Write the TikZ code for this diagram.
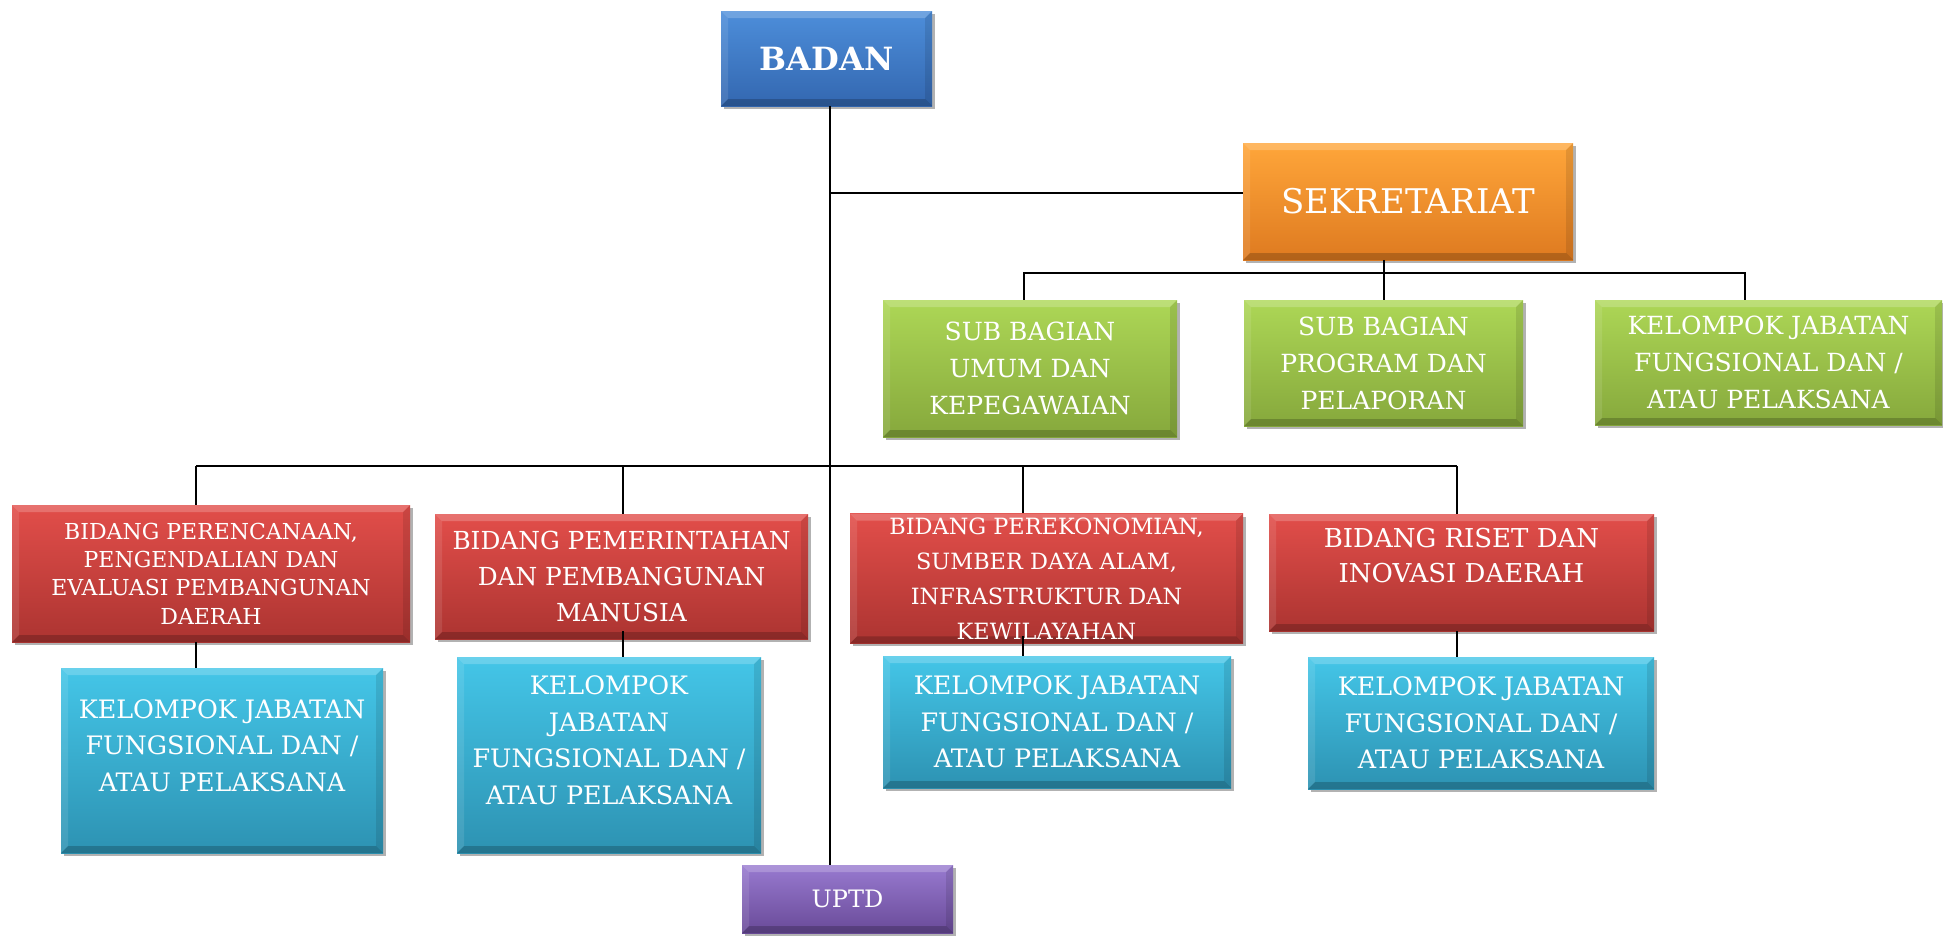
\documentclass[tikz,border=0pt]{standalone}
\usepackage{fontspec}
\setmainfont{DejaVu Serif}
\usetikzlibrary{shadows}

\definecolor{biruA}{HTML}{4D8EDA}
\definecolor{biruB}{HTML}{3367B0}
\definecolor{oranyeA}{HTML}{FFA63A}
\definecolor{oranyeB}{HTML}{DE7A20}
\definecolor{hijauA}{HTML}{ADD756}
\definecolor{hijauB}{HTML}{86A83C}
\definecolor{merahA}{HTML}{E24E4A}
\definecolor{merahB}{HTML}{AC3431}
\definecolor{tosqA}{HTML}{44C6E8}
\definecolor{tosqB}{HTML}{2D92B2}
\definecolor{unguA}{HTML}{987AD0}
\definecolor{unguB}{HTML}{694A98}

\tikzset{
  kotak/.style={rectangle, inner sep=2pt, align=center, text=white,
    drop shadow={shadow xshift=1.5pt, shadow yshift=-1.5pt, opacity=.3, fill=black},
    path picture={
      \fill[white, opacity=.2] (path picture bounding box.north west) -- (path picture bounding box.north east)
        -- ([shift={(-3.5pt,-3.5pt)}]path picture bounding box.north east) -- ([shift={(3.5pt,-3.5pt)}]path picture bounding box.north west) -- cycle;
      \fill[white, opacity=.1] (path picture bounding box.north west) -- ([shift={(3.5pt,-3.5pt)}]path picture bounding box.north west)
        -- ([shift={(3.5pt,3.5pt)}]path picture bounding box.south west) -- (path picture bounding box.south west) -- cycle;
      \fill[black, opacity=.1] (path picture bounding box.north east) -- ([shift={(-3.5pt,-3.5pt)}]path picture bounding box.north east)
        -- ([shift={(-3.5pt,3.5pt)}]path picture bounding box.south east) -- (path picture bounding box.south east) -- cycle;
      \fill[black, opacity=.2] (path picture bounding box.south west) -- (path picture bounding box.south east)
        -- ([shift={(-3.5pt,3.5pt)}]path picture bounding box.south east) -- ([shift={(3.5pt,3.5pt)}]path picture bounding box.south west) -- cycle;
    }},
  biru/.style={kotak, top color=biruA, bottom color=biruB},
  oranye/.style={kotak, top color=oranyeA, bottom color=oranyeB},
  hijau/.style={kotak, top color=hijauA, bottom color=hijauB, font=\fontsize{12.5}{18.5}\selectfont},
  merah/.style={kotak, top color=merahA, bottom color=merahB},
  tosq/.style={kotak, top color=tosqA, bottom color=tosqB, font=\fontsize{12.7}{18.3}\selectfont},
  ungu/.style={kotak, top color=unguA, bottom color=unguB},
  garis/.style={line width=1pt, black}
}

\begin{document}
\begin{tikzpicture}[x=0.5pt, y=-0.5pt]
    \useasboundingbox (0,0) rectangle (1943,937);

    % Pimpinan
    \node[biru, minimum width=105.5pt, minimum height=47.5pt, font=\bfseries\fontsize{16}{19}\selectfont] (badan) at (826.5,58.5) {BADAN};
    \node[oranye, minimum width=165pt, minimum height=58.5pt, font=\fontsize{17}{20}\selectfont] (sekre) at (1408,201.5) {SEKRETARIAT};

    % Sub bagian
    \node[hijau, minimum width=147pt, minimum height=68.5pt] (sub1) at (1030,368.5) {SUB BAGIAN\\UMUM DAN\\KEPEGAWAIAN};
    \node[hijau, minimum width=139.5pt, minimum height=63pt] (sub2) at (1383.5,363) {SUB BAGIAN\\PROGRAM DAN\\PELAPORAN};
    \node[hijau, minimum width=173.5pt, minimum height=62.5pt] (sub3) at (1768.5,362.5) {KELOMPOK JABATAN\\FUNGSIONAL DAN /\\ATAU PELAKSANA};

    % Bidang
    \node[merah, minimum width=199pt, minimum height=68.5pt, font=\fontsize{11}{14.2}\selectfont] (bid1) at (211,573.5)
        {BIDANG PERENCANAAN,\\PENGENDALIAN DAN\\EVALUASI PEMBANGUNAN\\DAERAH};
    \node[merah, minimum width=186.5pt, minimum height=62.5pt, font=\fontsize{12.4}{18}\selectfont] (bid2) at (621.5,576.5)
        {BIDANG PEMERINTAHAN\\DAN PEMBANGUNAN\\MANUSIA};
    \node[merah, minimum width=196.5pt, minimum height=64.5pt, font=\fontsize{11.2}{17.5}\selectfont] (bid3) at (1046.5,578.5)
        {BIDANG PEREKONOMIAN,\\SUMBER DAYA ALAM,\\INFRASTRUKTUR DAN\\KEWILAYAHAN};
    \node[merah, minimum width=192.5pt, minimum height=58.5pt, text depth=17pt, font=\fontsize{13}{17.5}\selectfont] (bid4) at (1461.5,572.5)
        {BIDANG RISET DAN\\INOVASI DAERAH};

    % Kelompok jabatan fungsional
    \node[tosq, minimum width=161pt, minimum height=92.5pt, text depth=15pt] (jf1) at (222,760.5) {KELOMPOK JABATAN\\FUNGSIONAL DAN /\\ATAU PELAKSANA};
    \node[tosq, minimum width=152pt, minimum height=98pt, text depth=15pt] (jf2) at (609,755) {KELOMPOK\\JABATAN\\FUNGSIONAL DAN /\\ATAU PELAKSANA};
    \node[tosq, minimum width=174pt, minimum height=66pt] (jf3) at (1057,722) {KELOMPOK JABATAN\\FUNGSIONAL DAN /\\ATAU PELAKSANA};
    \node[tosq, minimum width=173pt, minimum height=66pt] (jf4) at (1481,723) {KELOMPOK JABATAN\\FUNGSIONAL DAN /\\ATAU PELAKSANA};

    \node[ungu, minimum width=105.5pt, minimum height=34pt, font=\fontsize{12}{14}\selectfont] (uptd) at (847.5,899) {UPTD};

    % Garis utama
    \coordinate (pusat) at (830,0);
    \draw[garis] (pusat |- badan.south) -- (pusat |- uptd.north);
    \draw[garis] (pusat |- 0,193) -- (sekre.west |- 0,193);

    % Garis sekretariat
    \coordinate (busA) at (1384,273);
    \draw[garis] (busA |- sekre.south) -- (busA) -- (busA |- sub2.north);
    \draw[garis] (1024,0 |- sub1.north) -- (1024,273) -- (1745,273) -- (1745,0 |- sub3.north);

    % Garis bidang
    \coordinate (k1) at (196,466);
    \coordinate (k2) at (623,466);
    \coordinate (k3) at (1023,466);
    \coordinate (k4) at (1457,466);
    \draw[garis] (k1) -- (k4);
    \draw[garis] (k1) -- (k1 |- bid1.north);
    \draw[garis] (k2) -- (k2 |- bid2.north);
    \draw[garis] (k3) -- (k3 |- bid3.north);
    \draw[garis] (k4) -- (k4 |- bid4.north);
    \draw[garis] (k1 |- bid1.south) -- (k1 |- jf1.north);
    \draw[garis] ([yshift=4pt]k2 |- bid2.south) -- (k2 |- jf2.north);
    \draw[garis] ([yshift=4pt]k3 |- bid3.south) -- (k3 |- jf3.north);
    \draw[garis] (k4 |- bid4.south) -- (k4 |- jf4.north);
\end{tikzpicture}
\end{document}
